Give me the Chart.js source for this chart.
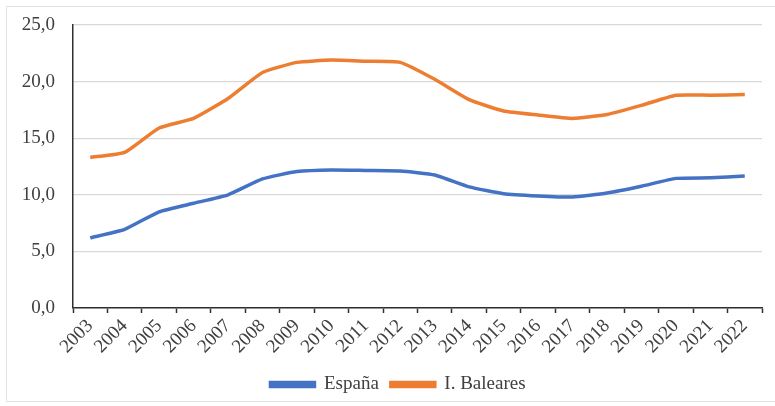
<!DOCTYPE html>
<html>
<head>
<meta charset="utf-8">
<script src="https://cdn.jsdelivr.net/npm/chart.js@4"></script>
<style>
    html, body { margin: 0; padding: 0; background: #fff; }
    #wrap { position: relative; width: 775px; height: 406px; }
    #frame { position: absolute; left: 6px; top: 6px; width: 780px; height: 396px; border: 1px solid #e2e2e2; box-sizing: border-box; }
    #chart { position: absolute; left: 0; top: 0; }
</style>
</head>
<body>
<div id="wrap">
    <div id="frame"></div>
    <canvas id="chart" width="775" height="406"></canvas>
</div>
<script>
const years = ['2003', '2004', '2005', '2006', '2007', '2008', '2009', '2010', '2011', '2012',
    '2013', '2014', '2015', '2016', '2017', '2018', '2019', '2020', '2021', '2022'];
const espana = [6.2, 6.95, 8.5, 9.25, 10.0, 11.4, 12.05, 12.2, 12.15, 12.1,
    11.75, 10.7, 10.1, 9.9, 9.8, 10.15, 10.75, 11.45, 11.5, 11.65];
const baleares = [13.3, 13.75, 15.9, 16.75, 18.5, 20.8, 21.7, 21.9, 21.8, 21.7,
    20.2, 18.4, 17.4, 17.05, 16.75, 17.1, 17.9, 18.8, 18.8, 18.85];

const serif = "'Liberation Serif', 'Times New Roman', serif";
const txt = '#404040';

// nudge the legend a little to the right
const legendShift = {
    id: 'legendShift',
    afterLayout(chart) {
        chart.legend.left += 17;
        chart.legend.right += 17;
    }
};

let chart = new Chart(document.getElementById('chart'), {
    type: 'line',
    data: {
        labels: years,
        datasets: [{
            label: 'España',
            data: espana,
            borderColor: '#4472C4',
            backgroundColor: '#4472C4',
            borderWidth: 3.5,
            pointRadius: 0,
            tension: 0.15
        }, {
            label: 'I. Baleares',
            data: baleares,
            borderColor: '#ED7D31',
            backgroundColor: '#ED7D31',
            borderWidth: 3.5,
            pointRadius: 0,
            tension: 0.15
        }]
    },
    options: {
        responsive: false,
        animation: false,
        layout: { padding: { top: 25, right: 13, bottom: 2, left: 0 } },
        plugins: {
            tooltip: { enabled: false },
            legend: {
                position: 'bottom',
                labels: {
                    font: { family: serif, size: 19 },
                    color: txt,
                    boxWidth: 44,
                    boxHeight: 4,
                    padding: 12
                }
            }
        },
        scales: {
            x: {
                offset: true,
                afterFit: function (s) { s.height = 55; },
                grid: {
                    offset: true,
                    drawOnChartArea: false,
                    tickLength: 5,
                    tickColor: '#303030',
                    tickWidth: 1.5
                },
                border: { color: '#303030', width: 1.5 },
                ticks: {
                    minRotation: 45,
                    maxRotation: 45,
                    autoSkip: false,
                    padding: 2,
                    color: txt,
                    font: { family: serif, size: 19 }
                }
            },
            y: {
                min: 0,
                max: 25,
                afterFit: function (s) {
                    s.width = 73;
                    s.paddingTop = 0;
                    s.paddingBottom = 0;
                },
                grid: { color: '#d9d9d9', lineWidth: 1.2, drawTicks: false },
                border: { color: '#303030', width: 1.5 },
                ticks: {
                    stepSize: 5,
                    padding: 18,
                    color: txt,
                    font: { family: serif, size: 19 },
                    callback: function (v) { return v.toFixed(1).replace('.', ','); }
                }
            }
        }
    },
    plugins: [legendShift]
});
</script>
</body>
</html>
